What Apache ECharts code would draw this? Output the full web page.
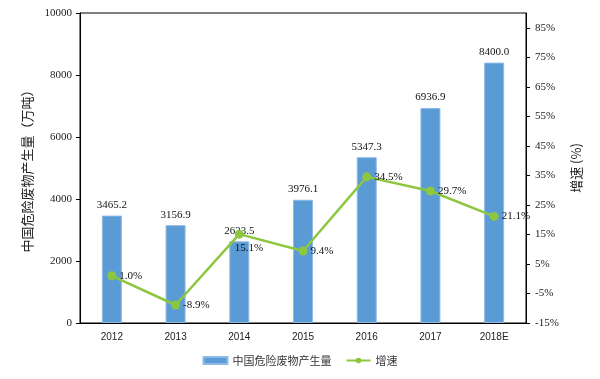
<!DOCTYPE html>
<html><head><meta charset="utf-8">
<script src="https://cdn.jsdelivr.net/npm/echarts@6/dist/echarts.min.js"></script>
<style>html,body{margin:0;padding:0;background:#fff}#c{width:600px;height:379px}</style>
</head><body><div id="c"></div>
<script>
var categories = ['2012','2013','2014','2015','2016','2017','2018E'];
var production = [3465.2, 3156.9, 2633.5, 3976.1, 5347.3, 6936.9, 8400.0];
var growth = [1.0, -8.9, 15.1, 9.4, 34.5, 29.7, 21.1];
var leftTicks = {min: 0, max: 10000, interval: 2000};
var rightTicks = {min: -15, max: 90, interval: 10};

var serif = '"Liberation Serif", "Times New Roman", serif';
var sans = '"Liberation Sans", Arial, sans-serif';
var cjk = '"Noto Sans CJK SC", sans-serif';

var growthData = growth.map(function(v, i){
  var item = {value: v};
  if (i === 2) item.label = {offset: [-12, 14]};
  return item;
});

var chart = echarts.init(document.getElementById('c'), null, {renderer: 'canvas'});
chart.setOption({
  animation: false,
  grid: {left: 80, right: 74, top: 13, bottom: 56, show: true, borderColor: '#000', borderWidth: 1},
  legend: {
    bottom: 8, left: 'center', itemGap: 14, itemWidth: 24, itemHeight: 7,
    textStyle: {fontFamily: cjk, fontSize: 11, color: '#333'},
    data: [{name: '中国危险废物产生量', icon: 'rect'}, {name: '增速'}]
  },
  xAxis: {
    type: 'category', data: categories,
    axisLine: {lineStyle: {color: '#000', width: 1}},
    axisTick: {show: false},
    axisLabel: {fontFamily: sans, fontSize: 10, color: '#222', margin: 9}
  },
  yAxis: [{
    type: 'value', min: leftTicks.min, max: leftTicks.max, interval: leftTicks.interval,
    name: '中国危险废物产生量（万吨）', nameLocation: 'middle', nameRotate: 90, nameGap: 44,
    nameTextStyle: {fontFamily: cjk, fontSize: 13, color: '#222'},
    axisLine: {show: true, lineStyle: {color: '#000'}},
    axisTick: {show: true, length: 4, lineStyle: {color: '#000'}},
    splitLine: {show: false},
    axisLabel: {fontFamily: serif, fontSize: 11, color: '#222', margin: 8,
      formatter: function(v){ return String(v); }}
  }, {
    type: 'value', min: rightTicks.min, max: rightTicks.max, interval: rightTicks.interval,
    name: '增速 (%)', nameLocation: 'middle', nameRotate: 90, nameGap: 42,
    nameTextStyle: {fontFamily: cjk, fontSize: 13, color: '#222'},
    axisLine: {show: true, lineStyle: {color: '#000'}},
    axisTick: {show: true, length: 4, lineStyle: {color: '#000'}},
    splitLine: {show: false},
    axisLabel: {fontFamily: serif, fontSize: 11, color: '#222', margin: 9, showMaxLabel: false,
      formatter: function(v){ return v + '%'; }}
  }],
  series: [{
    name: '中国危险废物产生量', type: 'bar', data: production, barWidth: 20, yAxisIndex: 0,
    itemStyle: {color: '#5b9bd5', borderColor: '#8fbbe6', borderWidth: 1},
    label: {show: true, position: 'top', distance: 5, fontFamily: serif, fontSize: 11, color: '#111',
      formatter: function(p){ return p.value.toFixed(1); }}
  }, {
    name: '增速', type: 'line', data: growthData, yAxisIndex: 1,
    symbol: 'circle', symbolSize: 9,
    lineStyle: {color: '#8dc63f', width: 2.5},
    itemStyle: {color: '#8dc63f'},
    label: {show: true, position: 'right', distance: 3, fontFamily: serif, fontSize: 11, color: '#111',
      formatter: function(p){ return p.value.toFixed(1) + '%'; }}
  }]
});
</script></body></html>
